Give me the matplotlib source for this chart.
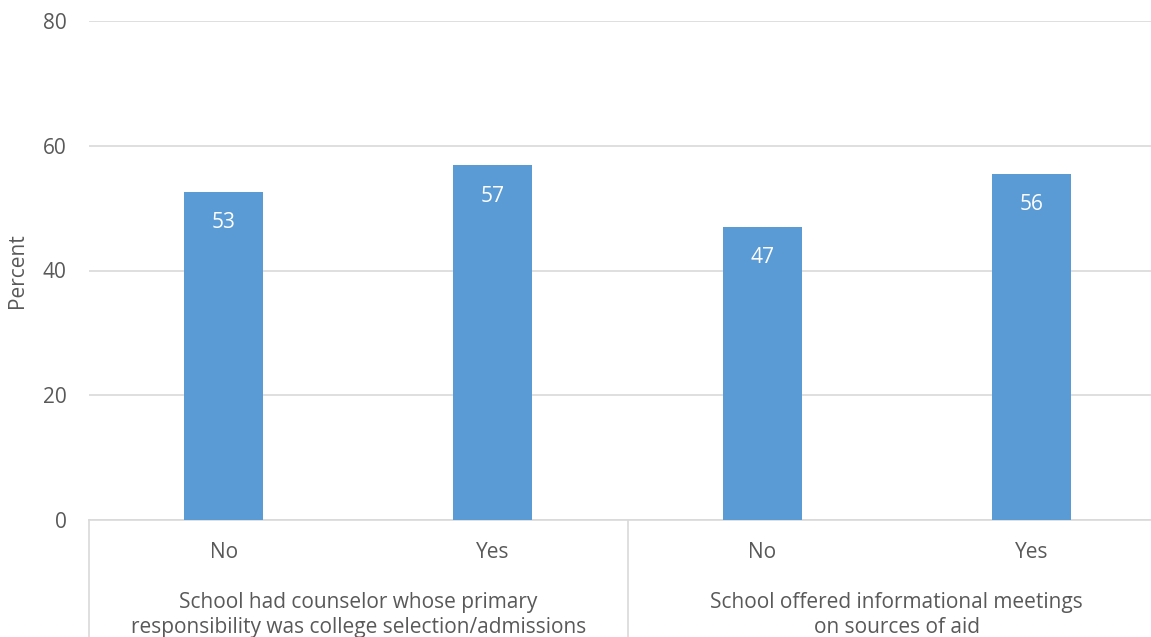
import numpy as np
import matplotlib.pyplot as plt

plt.rcParams['font.family'] = ['Open Sans', 'DejaVu Sans']

categories = ["No", "Yes", "No", "Yes"]
values = [52.6, 56.9, 47.0, 55.5]
labels = ["53", "57", "47", "56"]
groups = ["School had counselor whose primary\nresponsibility was college selection/admissions",
          "School offered informational meetings\non sources of aid"]
yticks = [0, 20, 40, 60, 80]

txt = "#595959"
grid = "#d9d9d9"
bar_color = "#5b9bd5"
fs = 15

fig = plt.figure(figsize=(11.51, 6.37), dpi=100)
ax = fig.add_axes([89/1151, 117/637, 1077/1151, 499/637])

x = np.arange(len(values))
bars = ax.bar(x, values, width=0.294, color=bar_color, zorder=3)
for b, lab in zip(bars, labels):
    ax.annotate(lab, (b.get_x() + b.get_width()/2, b.get_height()),
                xytext=(0, -31), textcoords="offset pixels",
                ha="center", va="center", color="white", fontsize=fs)

ax.set_xlim(-0.5, len(values) - 0.5)
ax.set_ylim(0, 80)
ax.set_yticks(yticks)
ax.yaxis.grid(True, color=grid, linewidth=1.2, zorder=0)
ax.tick_params(axis="y", length=0, labelsize=fs, labelcolor=txt, pad=16)
ax.tick_params(axis="x", length=0, labelsize=fs, labelcolor=txt, pad=16)
ax.set_xticks(x)
ax.set_xticklabels(categories)
for s in ["top", "right", "left"]:
    ax.spines[s].set_visible(False)
ax.spines["bottom"].set_color(grid)
ax.spines["bottom"].set_linewidth(1.2)
ax.set_ylabel("Percent", color=txt, fontsize=fs, labelpad=11)

# group separators and labels below the axis
trans = ax.get_xaxis_transform()
for xs in [-0.5, 1.5, 3.5]:
    ax.plot([xs, xs], [0, -0.3], transform=trans, color=grid, lw=1.2, clip_on=False)
for i, g in enumerate(groups):
    ax.text(2*i + 0.5, -0.19, g, transform=trans, ha="center", va="center",
            color=txt, fontsize=fs, linespacing=1.22)

fig.savefig("out.png", dpi=100)
